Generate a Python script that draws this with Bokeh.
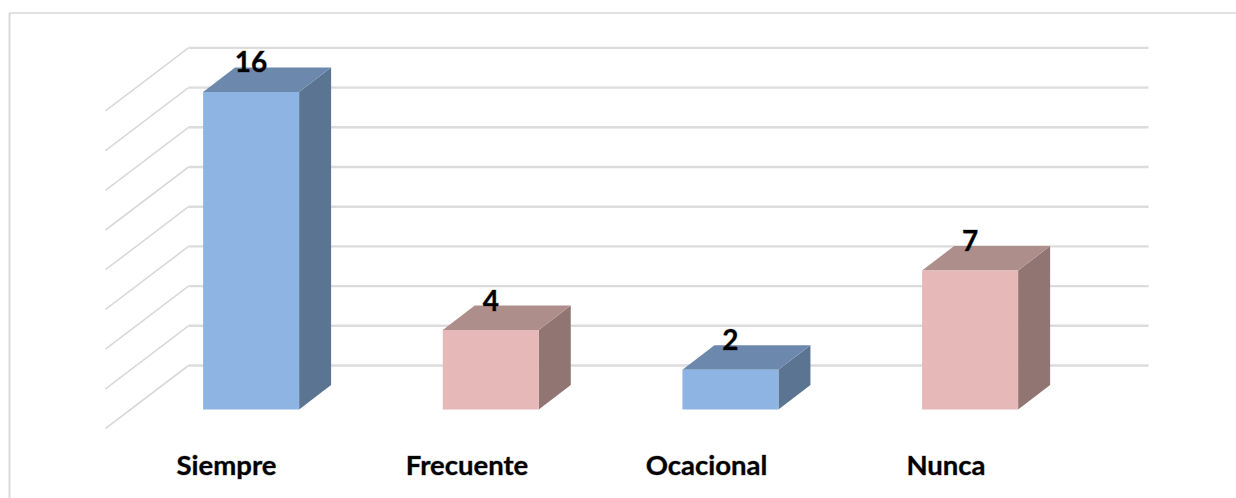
from bokeh.core.properties import value
from bokeh.embed import file_html
from bokeh.models import ColumnDataSource, Range1d
from bokeh.plotting import figure
from bokeh.resources import INLINE

categories = ["Siempre", "Frecuente", "Ocacional", "Nunca"]
counts = [16, 4, 2, 7]
front_colors = ["#8DB4E2", "#E6B9B8", "#8DB4E2", "#E6B9B8"]
top_colors = ["#6D88AD", "#AE8E8A", "#6D88AD", "#AE8E8A"]
side_colors = ["#5B7491", "#917573", "#5B7491", "#917573"]
grid_values = [0, 2, 4, 6, 8, 10, 12, 14, 16]

# Scale of the drawing: canvas pixels per category step and per count.
W, H = 1236, 498
PX_X = 239.67
PX_Y = 19.85
X0, Y0 = 250.6, 409.0
BAR_HALF = 48 / PX_X
DEPTH_X = 32 / PX_X
DEPTH_Y = 24.5 / PX_Y
WALL_LEFT = (188 - X0) / PX_X
WALL_RIGHT = (1148 - X0) / PX_X
FLOOR_DX = 83 / PX_X
FLOOR_DY = 63 / PX_Y
WALL_BASE = 44 / PX_Y
LABEL_LIFT = 30 / PX_Y
TEXT_EDGE = "#00000059"

p = figure(
    width=W, height=H, output_backend="svg", toolbar_location=None,
    x_range=Range1d(-X0 / PX_X, (W - X0) / PX_X),
    y_range=Range1d((Y0 - H) / PX_Y, Y0 / PX_Y),
    min_border=0, outline_line_color=None,
)
p.axis.visible = False
p.grid.visible = False


def x_px(px):
    return (px - X0) / PX_X


def y_px(px):
    return (Y0 - px) / PX_Y


# Chart area border: open on the right and at the bottom
p.line([x_px(9), x_px(9)], [y_px(498), y_px(12.5)], line_color="#D9D9D9", line_width=2)
p.line([x_px(9), x_px(1236)], [y_px(12.5), y_px(12.5)], line_color="#D9D9D9", line_width=1.5)

# Gridlines on the back wall and the slanted side wall
for g in grid_values:
    wall_y = g + WALL_BASE
    p.line([WALL_LEFT - FLOOR_DX, WALL_LEFT], [wall_y - FLOOR_DY, wall_y],
           line_color="#D9D9D9", line_width=1.6)
    p.line([WALL_LEFT, WALL_RIGHT], [wall_y, wall_y],
           line_color="#DCDCDC", line_width=2.4)

# Extruded bars: side and top faces behind, front face over them
for i, c in enumerate(counts):
    l, r = i - BAR_HALF, i + BAR_HALF
    p.patch([r, r + DEPTH_X, r + DEPTH_X, r], [0, DEPTH_Y, c + DEPTH_Y, c],
            fill_color=side_colors[i], line_color=None)
    p.patch([l, l + DEPTH_X, r + DEPTH_X, r], [c, c + DEPTH_Y, c + DEPTH_Y, c],
            fill_color=top_colors[i], line_color=None)
    p.quad(left=l, right=r, bottom=0, top=c,
           fill_color=front_colors[i], line_color=None)

# Value labels straddling the back edge of each bar's top face
labels = ColumnDataSource(dict(
    x=list(range(4)),
    y=[c + LABEL_LIFT for c in counts],
    t=[str(c) for c in counts],
))
p.text("x", "y", text="t", source=labels, text_align="center", text_baseline="middle",
       text_font=value("Lato"), text_font_style="bold", text_font_size="28px",
       text_color="#000000", text_outline_color=TEXT_EDGE)

# Category labels below the floor
cat_src = ColumnDataSource(dict(
    x=[x_px(226), x_px(466.5), x_px(706), x_px(945.5)],
    y=[y_px(463.5)] * 4,
    t=categories,
))
p.text("x", "y", text="t", source=cat_src, text_align="center", text_baseline="middle",
       text_font=value("Lato"), text_font_style="bold", text_font_size="27.5px",
       text_color="#000000", text_outline_color=TEXT_EDGE)

open("out.html", "w").write(file_html(p, INLINE))
